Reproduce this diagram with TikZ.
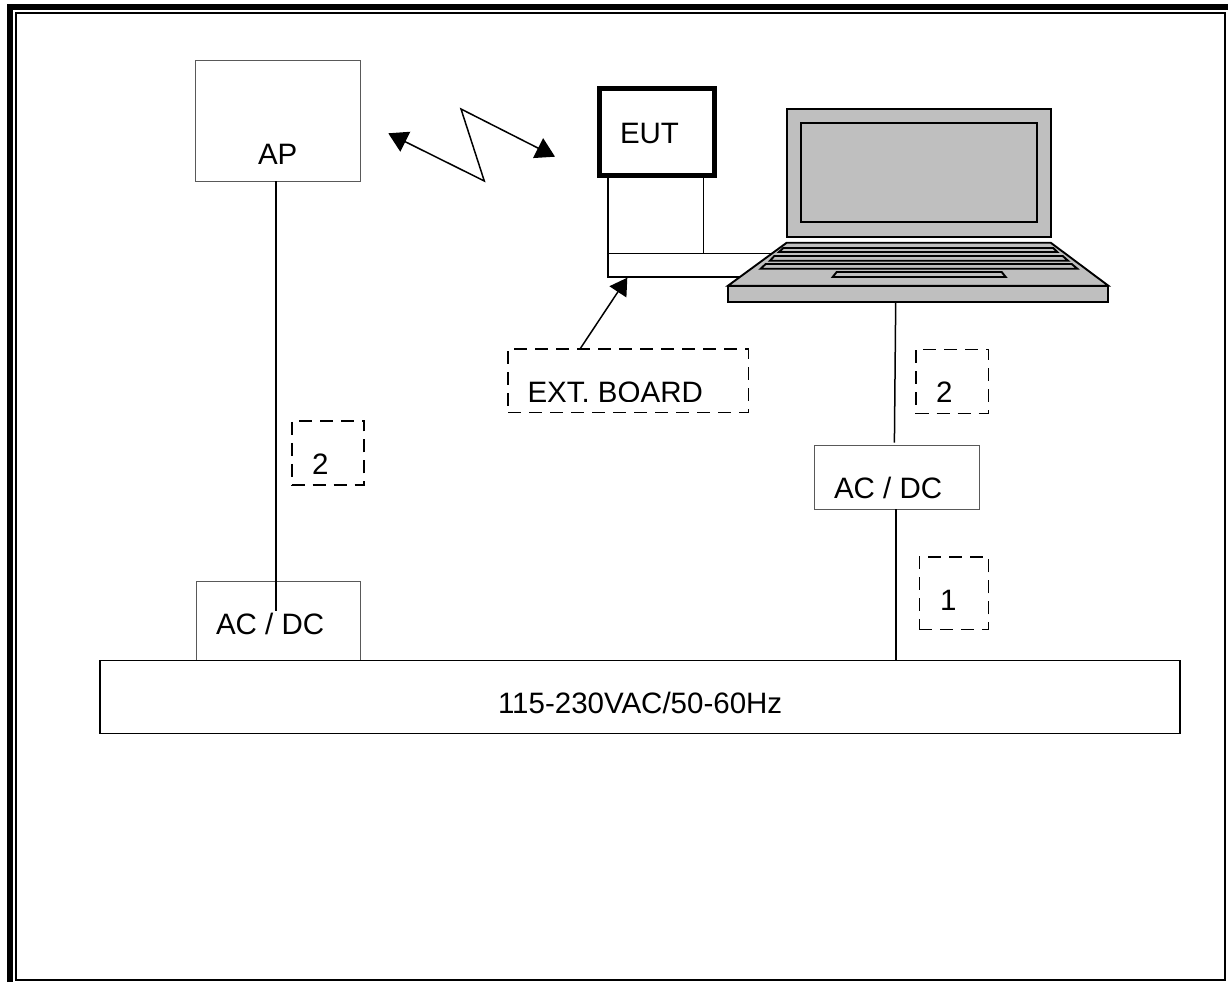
\documentclass[tikz,border=0pt]{standalone}
\usepackage{fontspec}
\setmainfont{Liberation Sans}
\usepackage{xcolor}
\usetikzlibrary{arrows.meta}
\tikzset{
  frm/.style={line width=6pt, miter limit=10},
  unit/.style={draw=black!65, line width=1pt, fill=white, anchor=north west, inner sep=0pt, outer sep=0pt},
  tag/.style={draw, dash pattern=on 13pt off 8pt, line width=1.6pt, anchor=north west, inner sep=0pt, outer sep=0pt},
  lbl/.style={anchor=base west, inner sep=0pt, outer sep=0pt, font=\fontsize{29.5}{33}\selectfont},
  wire/.style={line width=1.5pt},
  arw/.style={-{Triangle[length=19pt,width=22pt]}, line width=1.5pt},
  pc/.style={draw, line width=1.9pt, fill=black!25, line join=miter},
}
\begin{document}
\begin{tikzpicture}[x=1pt,y=-1pt]
  \useasboundingbox (0,0) rectangle (1228,982);
  % page frame
  \draw[frm] (10,982) -- (10,7) -- (1228,7);
  \draw[line width=2pt] (16,13) rectangle (1225,980);
  % mains strip and power supplies
  \node[unit,minimum width=164pt,minimum height=79.7pt] (adcl) at (196,581) {};
  \node[unit,minimum width=164.7pt,minimum height=64.3pt] (adcr) at (814.3,445) {};
  \node[unit,draw=black,line width=1.5pt,minimum width=1080pt,minimum height=72.6pt] (mains) at (100,660.7) {};
  \node[lbl] (mainstxt) at (498,713) {115-230VAC/50-60Hz};
  \node[lbl] (adcltxt) at (216,634.3) {AC / DC};
  \node[lbl] (adcrtxt) at (834,498.3) {AC / DC};
  % access point
  \node[unit,minimum width=164.3pt,minimum height=120pt] (ap) at (195.7,61) {};
  \node[lbl] (aptxt) at (258,164) {AP};
  \coordinate (apout) at (276,181);
  \coordinate (apend) at (276,610.7);
  \draw[wire] (apout) -- (apend);
  % radio link
  \coordinate (zapa) at (388.3,133.3);
  \coordinate (zapb) at (484.3,181);
  \coordinate (zapc) at (461,109);
  \coordinate (zapd) at (555,156.7);
  \draw[arw,{Triangle[length=19pt,width=22pt]}-{Triangle[length=19pt,width=22pt]},line join=miter] (zapa) -- (zapb) -- (zapc) -- (zapd);
  % board and device
  \node[unit,draw=black,line width=1.5pt,minimum width=192pt,minimum height=23.7pt] (board) at (608,253.3) {};
  \node[unit,draw=black,line width=5pt,minimum width=115.2pt,minimum height=87pt] (eut) at (599.2,88) {};
  \node[lbl] (euttxt) at (620,143.3) {EUT};
  \coordinate (legl) at (608,175);
  \coordinate (legr) at (703.7,175);
  \draw[wire] (legl) -- (legl |- board.north);
  \draw[wire] (legr) -- (legr |- board.north);
  % laptop
  \draw[pc] (786.7,109) rectangle (1050.7,236.7);
  \draw[pc] (801.3,123) rectangle (1036.7,222.3);
  \draw[pc] (786.7,242.7) -- (1050.7,242.7) -- (1108.3,285.7) -- (728,285.7) -- cycle;
  \draw[pc] (728,285.7) rectangle (1108.3,301.7);
  \draw[pc] (783.3,248) -- (1053.3,248) -- (1057.3,252) -- (779,252) -- cycle;
  \draw[pc] (774.3,256) -- (1062.7,256) -- (1068,260.7) -- (770,260.7) -- cycle;
  \draw[pc] (765.7,264) -- (1071.7,264) -- (1077.3,268.7) -- (760.7,268.7) -- cycle;
  \draw[pc] (836.7,272) -- (1001.7,272) -- (1005.7,277) -- (832.7,277) -- cycle;
  \coordinate (lapfoot) at (895.7,302);
  \coordinate (adcrin) at (894.4,442.7);
  \draw[wire] (lapfoot) -- (adcrin);
  \coordinate (adcrout) at (896,509.3);
  \draw[wire] (adcrout) -- (adcrout |- mains.north);
  % dashed tags
  \node[tag,minimum width=240.3pt,minimum height=63.3pt] (extbox) at (508,349) {};
  \begin{scope}
    \clip (500,370) rectangle (760,401.6);
    \node[lbl] (exttxt) at (527.5,402.7) {EXT. BOARD};
  \end{scope}
  \coordinate (extfoot) at (580,349);
  \coordinate (boardtip) at (627.3,277.7);
  \draw[arw,-{Triangle[length=17pt,width=20pt]}] (extfoot) -- (boardtip);
  \node[tag,minimum width=72.3pt,minimum height=64.3pt] (tagap) at (291.7,420.7) {};
  \node[lbl] (tagaptxt) at (312,474.3) {2};
  \node[tag,minimum width=72.6pt,minimum height=64pt] (tagtwo) at (915.7,349.3) {};
  \node[lbl] (tagtwotxt) at (936,402.3) {2};
  \node[tag,minimum width=69pt,minimum height=72.6pt] (tagone) at (919.3,556.7) {};
  \node[lbl] (tagonetxt) at (940,610.7) {1};
\end{tikzpicture}
\end{document}
